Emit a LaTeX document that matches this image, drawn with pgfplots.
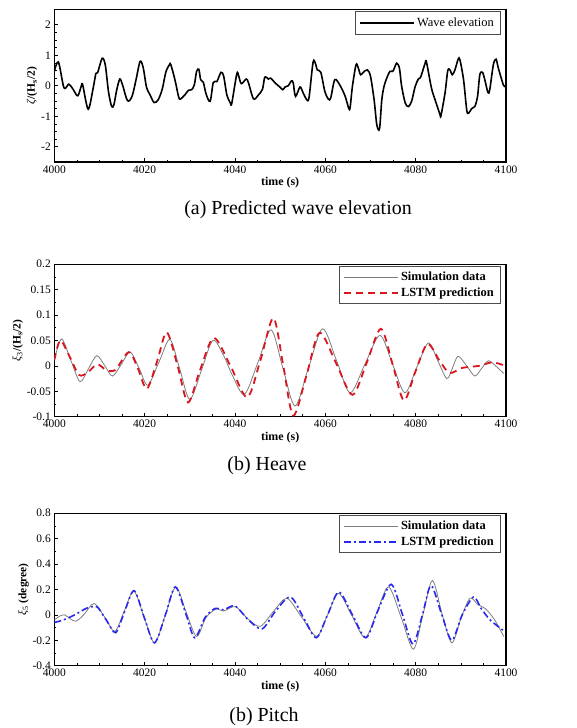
\documentclass[border=0pt]{standalone}
\usepackage{fontspec}
\setmainfont{Liberation Serif}
\usepackage{pgfplots}
\pgfplotsset{compat=1.18}

\definecolor{lstmred}{RGB}{220,20,30}
\definecolor{lstmblue}{RGB}{40,40,240}
\definecolor{simgray}{RGB}{125,125,125}

\pgfplotsset{
  tsax/.style={
    width=451.7bp, height=152.5bp, scale only axis,
    xmin=4000, xmax=4100,
    xtick={4000,4020,...,4100}, minor x tick num=3,
    tick align=inside, xtick pos=bottom, ytick pos=left,
    major tick length=4bp, minor tick length=2.2bp,
    axis line style={line width=1.3bp},
    tick style={line width=0.6bp, black},
    tick label style={font=\fontsize{11.5}{13}\selectfont},
    /pgf/number format/assume math mode=true,
    /pgf/number format/set thousands separator={},
    xticklabel style={/pgf/number format/fixed, /pgf/number format/precision=0},
    xlabel={\textbf{time (s)}},
    xlabel style={font=\fontsize{12}{14}\selectfont, yshift=3bp},
    ylabel style={font=\fontsize{11.5}{13}\selectfont, yshift=-3bp},
    legend cell align=left,
    legend style={at={(0.987,0.987)}, anchor=north east,
      draw=black!70, line width=0.6bp, font=\fontsize{12.5}{15}\selectfont,
      row sep=2bp, inner xsep=4bp, inner ysep=3.5bp},
    legend image code/.code={\draw[#1] (0bp,0bp) -- (54bp,0bp);},
  },
}

\begin{document}
\begin{tikzpicture}
\useasboundingbox (0,0) rectangle (577bp,728bp);

% (a) wave elevation
\begin{axis}[tsax, at={(54.3bp,566bp)}, anchor=south west,
  ymin=-2.5, ymax=2.5, ytick={-2,-1,0,1,2}, minor y tick num=3,
  ylabel={\textit{ζ}\textbf{/(H\textsubscript{s}/2)}},
  legend style={inner ysep=4bp}]
\addplot[black, line width=1.6bp, smooth, tension=0.5] coordinates {
(4000,0.47) (4000.9,0.78) (4002,0) (4002.5,-0.08) (4003.2,0.05) (4004,-0.08)
(4005,-0.32) (4005.4,-0.28) (4006,0) (4006.3,0.02) (4007.5,-0.77) (4008.6,-0.08)
(4009.2,0.40) (4009.6,0.43) (4010.6,0.90) (4011.3,0.67) (4012,-0.20) (4012.7,-0.68)
(4013.2,-0.62) (4013.8,-0.15) (4014.5,0.22) (4015.1,0.03) (4016.2,-0.49) (4017.2,-0.35)
(4018.1,0.20) (4019,0.80) (4019.7,0.58) (4020.4,-0.04) (4021.2,-0.30) (4022.1,-0.55)
(4023,-0.46) (4023.9,-0.11) (4024.7,0.45) (4025.5,0.69) (4025.8,0.69) (4026.7,0.20)
(4027.5,-0.35) (4027.9,-0.44) (4028.9,-0.30) (4029.7,-0.15) (4030.4,-0.13) (4031,0.03)
(4031.5,0.47) (4032,0.54) (4032.4,0.20) (4033,0.11) (4033.6,-0.27) (4034.5,-0.51)
(4035.2,0.11) (4036,0.14) (4036.9,0.44) (4037.5,0.31) (4038.2,-0.30) (4039,-0.57)
(4039.3,-0.57) (4040.4,0.39) (4040.8,0.33) (4041.4,0.07) (4042.5,0.22) (4043,0.09)
(4044.1,-0.43) (4045.2,-0.30) (4046.1,-0.11) (4046.6,0.28) (4047.4,0.22) (4047.9,0.25)
(4048.9,0.09) (4050,-0.05) (4050.6,-0.13) (4051.1,-0.04) (4051.8,0) (4052.5,0.16)
(4052.9,0.09) (4053.4,-0.35) (4054.4,-0.04) (4055.1,-0.24) (4055.9,-0.46) (4056.4,-0.38)
(4057.3,0.78) (4057.9,0.69) (4058.2,0.52) (4059,0.44) (4059.9,-0.19) (4060.7,-0.44)
(4061.2,-0.40) (4062.1,0.20) (4063.3,0) (4064.4,-0.35) (4065.2,-0.75) (4065.5,-0.70)
(4066,-0.02) (4066.8,0.69) (4067.3,0.58) (4067.8,0.36) (4068.4,0.44) (4069.3,0.52)
(4070,0.31) (4070.8,-0.46) (4071.4,-1.28) (4072,-1.41) (4072.5,-0.46) (4073,-0.02)
(4073.6,0.25) (4074.3,0.47) (4074.9,0.47) (4075.3,0.58) (4075.8,0.74) (4076.4,0.58)
(4076.9,-0.02) (4077.7,-0.57) (4078.4,-0.68) (4079.1,-0.51) (4079.9,-0.02) (4080.6,0.22)
(4081.1,0.28) (4082.1,0.74) (4082.4,0.77) (4083.5,-0.08) (4084.3,-0.46) (4085.4,-0.95)
(4085.6,-0.98) (4086.5,-0.24) (4087.1,0.49) (4087.6,0.52) (4088.1,0.36) (4088.7,0.52)
(4089.4,0.87) (4089.8,0.85) (4090.6,0.20) (4091.3,-0.79) (4091.7,-0.90) (4092.4,-0.75)
(4093.1,-0.68) (4093.7,-0.35) (4094.2,0.36) (4094.8,0.44) (4095.3,0.20) (4096,-0.22)
(4096.4,-0.13) (4097.2,0.69) (4097.8,0.87) (4098.3,0.58) (4099.4,0.03) (4099.7,0)
};
\legend{Wave elevation}
\end{axis}
\node[font=\fontsize{20}{24}\selectfont] at (298bp,518bp) {(a) Predicted wave elevation};

% (b) heave
\begin{axis}[tsax, at={(54.3bp,311.3bp)}, anchor=south west,
  ymin=-0.1, ymax=0.2, ytick={-0.1,-0.05,...,0.2}, minor y tick num=1,
  yticklabel style={/pgf/number format/fixed, /pgf/number format/precision=2},
  ylabel={\textit{ξ}\textsubscript{3}\textbf{/(H\textsubscript{s}/2)}},
  legend style={font=\bfseries\fontsize{12.5}{15}\selectfont}]
\addplot[simgray, line width=0.8bp, smooth] coordinates {
(4000,0.011) (4001.6,0.053) (4003.7,0.01) (4005.7,-0.031) (4007.6,-0.005) (4009.4,0.020)
(4011.2,0.0) (4012.9,-0.020) (4014.9,0.004) (4016.8,0.027) (4018.8,-0.005) (4020.7,-0.038)
(4023.2,0.008) (4025.6,0.052) (4027.8,-0.007) (4030.0,-0.066) (4032.6,-0.008) (4035.1,0.050)
(4037.5,0.02) (4039.5,-0.02) (4042.1,-0.056) (4045.1,0.007) (4048.0,0.071) (4050.6,-0.004)
(4053.3,-0.079) (4056.3,-0.003) (4059.4,0.073) (4062.5,0.01) (4065.5,-0.053) (4068.8,0.004)
(4072.1,0.060) (4074.9,0.003) (4077.6,-0.053) (4080.2,-0.004) (4082.8,0.045) (4084.9,0.01)
(4086.9,-0.025) (4088.2,-0.003) (4089.4,0.019) (4091.3,0.0) (4093.1,-0.020) (4094.6,-0.005)
(4096.1,0.010) (4097.7,0.0) (4099.5,-0.015)
};
\addplot[lstmred, line width=1.8bp, dash pattern=on 7bp off 5bp, smooth] coordinates {
(4000,0.011) (4001.3,0.050) (4003.3,0.02) (4005.5,-0.018) (4007.5,-0.012) (4009.5,0.003)
(4011.5,-0.008) (4013.5,-0.008) (4016.5,0.027) (4018.5,-0.005) (4020.5,-0.045) (4022.8,0.01)
(4024.9,0.066) (4027.3,0.0) (4029.6,-0.072) (4032.2,-0.01) (4035.3,0.055) (4039,0.0)
(4042.7,-0.062) (4045.6,0.01) (4048.5,0.094) (4050.7,0.0) (4052.9,-0.098) (4055.8,-0.02)
(4058.7,0.065) (4062.4,0.005) (4066.0,-0.057) (4069.2,0.007) (4072.3,0.073) (4074.9,0.003)
(4077.4,-0.068) (4080,-0.01) (4082.6,0.043) (4085.3,0.01) (4087.5,-0.014) (4090.3,-0.004)
(4094.0,0.0) (4097.0,0.007) (4099.5,0.001)
};
\legend{Simulation data, LSTM prediction}
\end{axis}
\node[font=\fontsize{20}{24}\selectfont] at (267bp,262bp) {(b) Heave};

% (b) pitch
\begin{axis}[tsax, at={(54.3bp,62.3bp)}, anchor=south west,
  ymin=-0.4, ymax=0.8, ytick={-0.4,-0.2,...,0.8}, minor y tick num=1,
  yticklabel style={/pgf/number format/fixed, /pgf/number format/precision=1},
  ylabel={\textit{ξ}\textsubscript{5}\textbf{ (degree)}},
  legend style={font=\bfseries\fontsize{12.5}{15}\selectfont}]
\addplot[simgray, line width=0.8bp, smooth] coordinates {
(4000,-0.04) (4001.2,-0.01) (4002.3,0.0) (4003.5,-0.03) (4004.8,-0.05) (4006.5,0.0)
(4008.8,0.09) (4011.2,-0.02) (4013.4,-0.13) (4015.5,0.03) (4017.6,0.19) (4019.9,-0.02)
(4022.2,-0.22) (4024.6,0.0) (4026.9,0.22) (4029.2,0.02) (4031.5,-0.17) (4033.6,-0.02)
(4035.8,0.045) (4037.5,0.03) (4040.1,0.065) (4042.8,-0.03) (4045.6,-0.09) (4048.6,0.03)
(4051.5,0.13) (4054.8,-0.02) (4058.1,-0.17) (4060.5,0.0) (4062.9,0.17) (4065.8,0.0)
(4068.8,-0.18) (4071.4,0.02) (4074.0,0.22) (4076.8,-0.02) (4079.5,-0.27) (4081.6,0.0)
(4083.7,0.27) (4085.9,0.0) (4088.0,-0.22) (4090.0,-0.03) (4092.0,0.13) (4093.8,0.08)
(4095.4,0.05) (4097.5,-0.04) (4099.5,-0.17)
};
\addplot[lstmblue, line width=1.6bp, dash pattern=on 7bp off 3bp on 2bp off 3bp, smooth] coordinates {
(4000,-0.06) (4002,-0.04) (4004.5,0.0) (4007,0.05) (4008.5,0.065) (4009.6,0.06)
(4011.5,-0.04) (4013.6,-0.14) (4015.6,0.03) (4017.7,0.19) (4020,-0.03) (4022.2,-0.22)
(4024.6,0.0) (4026.8,0.22) (4029.2,0.0) (4031.1,-0.18) (4033.4,-0.02) (4035.6,0.05)
(4037.5,0.04) (4040,0.07) (4043,-0.04) (4046,-0.11) (4049,0.03) (4052.3,0.14)
(4055.3,-0.03) (4058.0,-0.18) (4060.5,0.0) (4063.0,0.18) (4066,0.0) (4069,-0.18)
(4071.6,0.03) (4074.6,0.24) (4077.1,0.0) (4079.4,-0.23) (4081.5,0.0) (4083.4,0.23)
(4085.8,0.0) (4088.0,-0.20) (4090.3,0.0) (4092.8,0.14) (4094.5,0.05) (4096.5,-0.04)
(4099.3,-0.12)
};
\legend{Simulation data, LSTM prediction}
\end{axis}
\node[font=\fontsize{20}{24}\selectfont] at (264bp,11bp) {(b) Pitch};
\end{tikzpicture}
\end{document}
